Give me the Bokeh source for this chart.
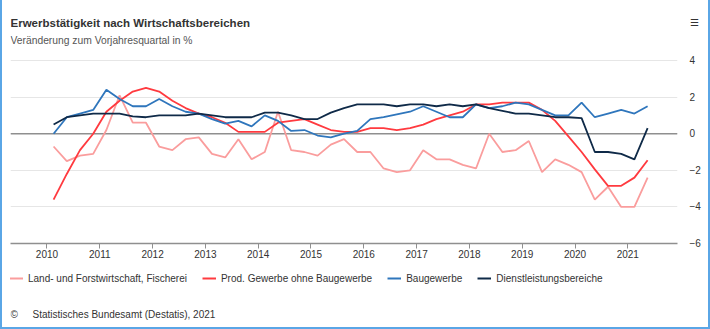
from bokeh.plotting import figure
from bokeh.layouts import column
from bokeh.models import Range1d, FixedTicker, Span, Label, Legend, LegendItem, ColumnDataSource
from bokeh.embed import file_html
from bokeh.resources import INLINE

# ---------------- data ----------------
n_quarters = 46  # 2010 Q1 .. 2021 Q2
periods = [(y, q) for y in range(2010, 2022) for q in range(1, 5)][:n_quarters]
x_pos = [y + (q - 0.5) / 4 for (y, q) in periods]  # mid-quarter position

year_ticks = list(range(2010, 2022))
year_labels = [str(y) for y in year_ticks]
y_ticks = [-6, -4, -2, 0, 2, 4]

land = [-0.7, -1.5, -1.2, -1.1, 0.2, 2.1, 0.6, 0.6, -0.7, -0.9, -0.3, -0.2,
        -1.1, -1.3, -0.3, -1.4, -1.0, 1.2, -0.9, -1.0, -1.2, -0.6, -0.3, -1.0,
        -1.0, -1.9, -2.1, -2.0, -0.9, -1.4, -1.4, -1.7, -1.9, 0.0, -1.0, -0.9,
        -0.4, -2.1, -1.4, -1.7, -2.1, -3.6, -2.9, -4.0, -4.0, -2.4]
prod = [-3.6, -2.2, -0.9, 0.0, 1.2, 1.8, 2.3, 2.5, 2.3, 1.8, 1.4, 1.1,
        0.9, 0.6, 0.1, 0.1, 0.1, 0.6, 0.7, 0.8, 0.5, 0.2, 0.1, 0.1,
        0.3, 0.3, 0.2, 0.3, 0.5, 0.8, 1.0, 1.2, 1.6, 1.6, 1.7, 1.7,
        1.7, 1.3, 0.7, -0.15, -1.0, -1.95, -2.85, -2.85, -2.4, -1.45]
bau = [0.0, 0.9, 1.1, 1.3, 2.4, 1.9, 1.5, 1.5, 1.9, 1.5, 1.2, 1.1,
       0.8, 0.55, 0.7, 0.4, 1.0, 0.7, 0.15, 0.2, -0.1, -0.2, 0.0, 0.15,
       0.8, 0.9, 1.05, 1.2, 1.5, 1.2, 0.9, 0.9, 1.6, 1.4, 1.5, 1.7,
       1.6, 1.3, 1.0, 1.0, 1.7, 0.9, 1.1, 1.3, 1.1, 1.5]
dienst = [0.5, 0.9, 1.0, 1.1, 1.1, 1.1, 0.95, 0.9, 1.0, 1.0, 1.0, 1.1,
          1.0, 0.9, 0.9, 0.9, 1.15, 1.15, 1.0, 0.8, 0.8, 1.15, 1.4, 1.6,
          1.6, 1.6, 1.5, 1.6, 1.6, 1.5, 1.6, 1.5, 1.6, 1.4, 1.25, 1.1,
          1.1, 1.0, 0.9, 0.9, 0.85, -1.0, -1.0, -1.1, -1.4, 0.3]

series_names = ["Land- und Forstwirtschaft, Fischerei", "Prod. Gewerbe ohne Baugewerbe",
                "Baugewerbe", "Dienstleistungsbereiche"]
series_values = [land, prod, bau, dienst]
series_colors = ["#fa9d9d", "#ff3a3f", "#2f76bc", "#0f2a48"]

title_text = "Erwerbstätigkeit nach Wirtschaftsbereichen"
subtitle_text = "Veränderung zum Vorjahresquartal in %"
credits_text = "Statistisches Bundesamt (Destatis), 2021"
menu_icon = "☰"

FONT = "Liberation Sans"
TXT = "#333333"
BORDER = "2px solid #5aa6e6"

# frame of the chart spans the header area too; value 4 sits 60px below the top
Y_TOP = 7.2787
MENU_Y = 6.08

# ---------------- main chart ----------------
p = figure(width=706, height=265, output_backend="svg", toolbar_location=None,
           x_range=Range1d(2009.309, 2021.941), y_range=Range1d(-6, Y_TOP),
           y_axis_location="right",
           min_border_left=8, min_border_right=31, min_border_top=0, min_border_bottom=22)
p.outline_line_color = None
p.background_fill_color = "white"
p.border_fill_color = "white"

p.xaxis.ticker = FixedTicker(ticks=year_ticks)
p.xaxis.major_label_overrides = {t: l for t, l in zip(year_ticks, year_labels)}
p.xaxis.axis_line_color = "#8f8f8f"
p.xaxis.axis_line_width = 1.5
p.xaxis.major_tick_line_color = "#8f8f8f"
p.xaxis.major_tick_in = 0
p.xaxis.major_tick_out = 5
p.xaxis.minor_tick_line_color = None
p.xaxis.major_label_standoff = 1
p.xaxis.major_label_text_font = FONT
p.xaxis.major_label_text_font_size = "10px"
p.xaxis.major_label_text_color = TXT

p.yaxis.ticker = FixedTicker(ticks=y_ticks + [MENU_Y])
p.yaxis.major_label_overrides = {MENU_Y: menu_icon}
p.yaxis.axis_line_color = None
p.yaxis.major_tick_line_color = None
p.yaxis.minor_tick_line_color = None
p.yaxis.major_label_standoff = 6
p.yaxis.major_label_text_font = FONT
p.yaxis.major_label_text_font_size = "10px"
p.yaxis.major_label_text_color = TXT

p.xgrid.grid_line_color = None
p.ygrid.ticker = FixedTicker(ticks=y_ticks)
p.ygrid.grid_line_color = "#e6e6e6"
p.ygrid.grid_line_width = 1

p.add_layout(Span(location=0, dimension="width", line_color="#8f8f8f",
                  line_width=1.5, level="underlay"))

for name, vals, col in zip(series_names, series_values, series_colors):
    src = ColumnDataSource(data=dict(x=x_pos, y=vals))
    p.line("x", "y", source=src, line_color=col, line_width=1.8)

# titles inside the frame (screen units from frame bottom-left; frame bottom = page y 243)
p.add_layout(Label(x=0, y=220.3, x_units="screen", y_units="screen",
                   text=title_text, text_font=FONT, text_font_size="11.5px",
                   text_font_style="bold", text_color="#333333", text_baseline="alphabetic"))
p.add_layout(Label(x=0, y=203, x_units="screen", y_units="screen",
                   text=subtitle_text, text_font=FONT, text_font_size="10.3px",
                   text_color="#555555", text_baseline="alphabetic"))

# ---------------- legend + credits strip ----------------
f = figure(width=706, height=62, output_backend="svg", toolbar_location=None,
           x_axis_type=None, y_axis_type=None, x_range=Range1d(0, 1), y_range=Range1d(0, 1),
           min_border=0, min_border_left=0, min_border_right=0, min_border_top=0,
           min_border_bottom=0)
f.outline_line_color = None
f.background_fill_color = "white"
f.border_fill_color = "white"

# the same series (outside this strip's visible range) serve as legend sources
items = []
for name, vals, col in zip(series_names, series_values, series_colors):
    src = ColumnDataSource(data=dict(x=x_pos, y=vals))
    r = f.line("x", "y", source=src, line_color=col, line_width=2)
    items.append(LegendItem(label=name, renderers=[r]))

legend = Legend(items=items, orientation="horizontal", location=(-1, 43),
                glyph_width=14, glyph_height=12, label_height=12, label_standoff=5,
                spacing=15, padding=0, margin=0, border_line_color=None,
                background_fill_alpha=0, label_text_font=FONT,
                label_text_font_size="10px", label_text_color=TXT)
f.add_layout(legend, "center")

f.add_layout(Label(x=0, y=13, x_units="screen", y_units="screen", text="©",
                   text_font=FONT, text_font_size="10px", text_color=TXT,
                   text_baseline="alphabetic"))
f.add_layout(Label(x=22, y=13, x_units="screen", y_units="screen", text=credits_text,
                   text_font=FONT, text_font_size="10px", text_color=TXT,
                   text_baseline="alphabetic"))

layout = column(p, f, spacing=0,
                styles={"border-left": BORDER, "border-right": BORDER, "border-bottom": BORDER})

open("out.html", "w").write(file_html(layout, INLINE))
